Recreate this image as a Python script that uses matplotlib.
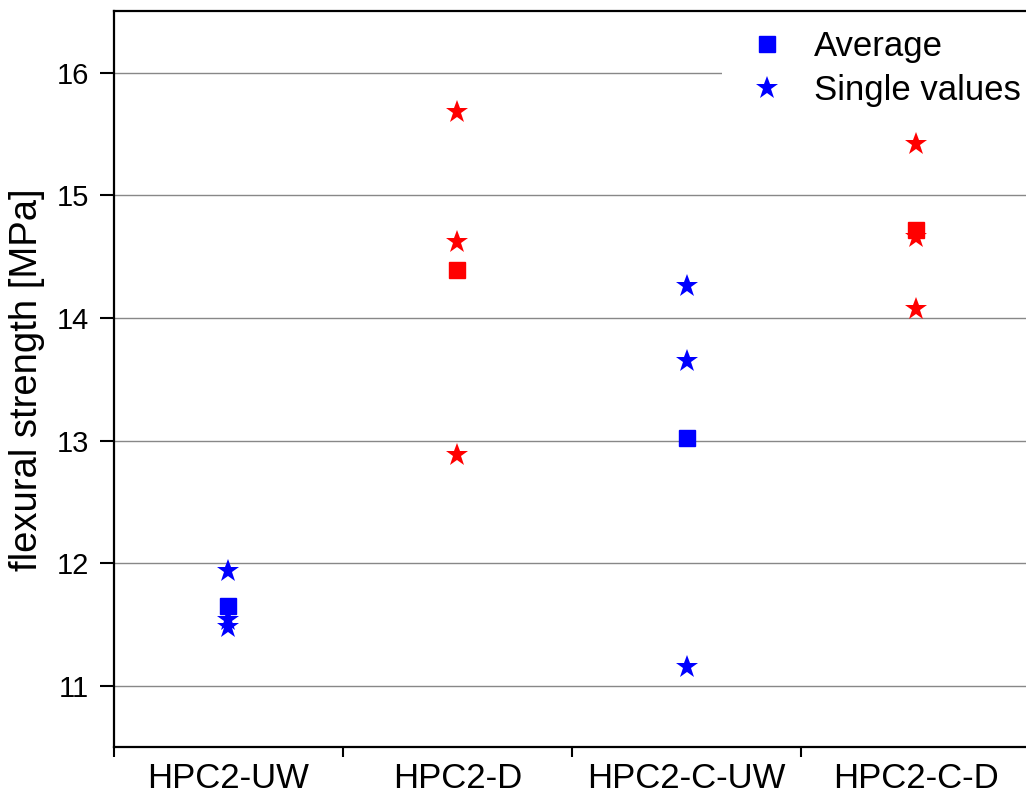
import matplotlib
matplotlib.use("Agg")
import matplotlib.pyplot as plt
from matplotlib.lines import Line2D

plt.rcParams['font.family'] = ['Liberation Sans', 'DejaVu Sans']

categories = ['HPC2-UW', 'HPC2-D', 'HPC2-C-UW', 'HPC2-C-D']
colors = ['#0000ff', '#ff0000', '#0000ff', '#ff0000']
single_values = [
    [11.94, 11.54, 11.48],
    [15.68, 14.62, 12.88],
    [14.26, 13.65, 11.15],
    [15.42, 14.66, 14.07],
]
averages = [11.65, 14.39, 13.02, 14.72]

fig = plt.figure(figsize=(10.26, 8), dpi=100)
ax = fig.add_axes([0.111, 0.066, 0.893, 0.920])

for i, cat in enumerate(categories):
    ax.plot([i], [averages[i]], 's', color=colors[i], markersize=12, zorder=3)
    ax.plot([i] * len(single_values[i]), single_values[i], '*', color=colors[i],
            markersize=17, markeredgewidth=0, zorder=4)

ax.set_xlim(-0.5, 3.5)
ax.set_ylim(10.5, 16.5)
ax.set_yticks([11, 12, 13, 14, 15, 16])
ax.grid(True, axis='y', color='#888888', linewidth=1)
ax.set_axisbelow(True)

# category labels in the middle, ticks on the boundaries
ax.set_xticks([-0.5, 0.5, 1.5, 2.5, 3.5])
ax.set_xticklabels([])
ax.set_xticks(range(len(categories)), minor=True)
ax.set_xticklabels(categories, minor=True)
ax.tick_params(axis='x', which='minor', length=0, pad=11, labelsize=25)
ax.tick_params(axis='x', which='major', length=7, width=1.5)
ax.tick_params(axis='y', length=10, width=1.5, labelsize=21, pad=8)

for side in ['left', 'bottom', 'top']:
    ax.spines[side].set_linewidth(1.6)
ax.spines['right'].set_visible(False)

ax.set_ylabel('flexural strength [MPa]', fontsize=27.5, labelpad=8)

handles = [
    Line2D([], [], marker='s', color='#0000ff', linestyle='none', markersize=12),
    Line2D([], [], marker='*', color='#0000ff', linestyle='none', markersize=17,
           markeredgewidth=0),
]
leg = fig.legend(handles, ['Average', 'Single values'], loc='upper right',
                 bbox_to_anchor=(1.022, 0.997), fontsize=25, frameon=True,
                 facecolor='white', edgecolor='none', framealpha=1,
                 handletextpad=0.35, labelspacing=0.32, borderpad=0.3)

fig.savefig('out.png', dpi=100)
